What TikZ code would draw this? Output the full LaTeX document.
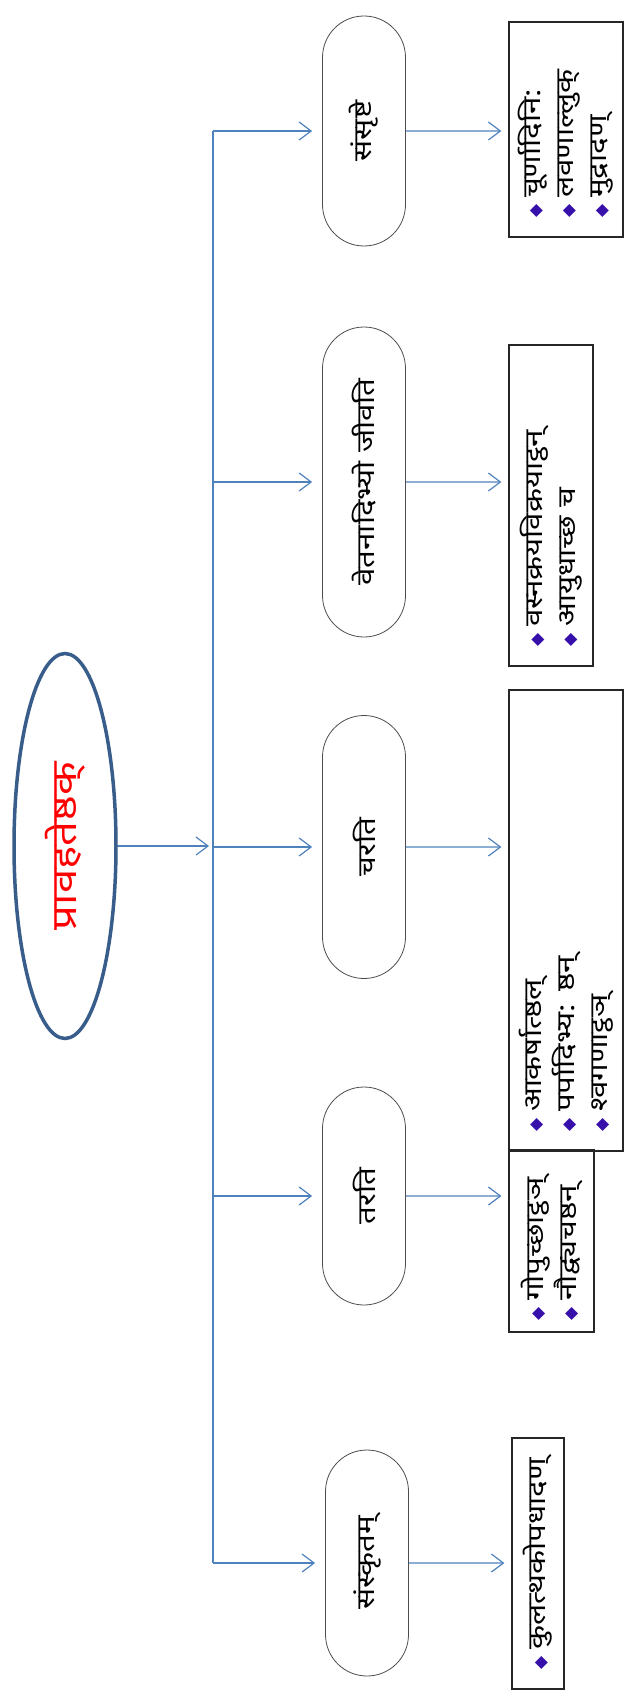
\documentclass[tikz,border=0pt]{standalone}
\usepackage{fontspec}
\setmainfont{Noto Sans}[Script=Devanagari, FakeStretch=1.25]
\newfontfamily\dejavu{DejaVu Sans}
\usepackage{tikz}
\usetikzlibrary{arrows.meta}
\usetikzlibrary{shapes.geometric, shapes.misc}
\usetikzlibrary{positioning}
\definecolor{linkblue}{RGB}{79,129,189}
\definecolor{ringblue}{RGB}{56,93,138}
\definecolor{dotblue}{RGB}{55,15,170}
\newcommand{\dotmark}{{\dejavu\color{dotblue}\fontsize{17}{17}\selectfont ◆}\hspace{6pt}}

\begin{document}
\begin{tikzpicture}[x=1pt, y=-1pt, font=\fontsize{25}{33}\selectfont]
	\useasboundingbox (0,0) rectangle (626,1699);

	\node[ellipse, draw=ringblue, line width=3.5pt, text=red, rotate=90,
	      font=\fontsize{35}{40}\selectfont,
	      minimum width=385pt, minimum height=102pt, inner sep=0pt] (root) at (65,846) {प्रावहतेष्ठक्};

	\begin{scope}[every node/.style={rounded rectangle, draw=black!70, line width=0.8pt,
	              rotate=90, minimum height=83pt, inner sep=0pt}]
		\node[minimum width=230pt] (1) at (364,131) {संसृष्टे};
		\node[minimum width=310pt] (2) at (364,482) {वेतनादिभ्यो जीवति};
		\node[minimum width=263pt] (3) at (364,847) {चरति};
		\node[minimum width=218pt] (4) at (364,1196) {तरति};
		\node[minimum width=226pt] (5) at (367,1563) {संस्कृतम्};
	\end{scope}

	\begin{scope}[every node/.style={rectangle, draw=black!85, line width=1.2pt, rotate=90,
	              align=left, inner xsep=20pt, inner ysep=0pt}]
		\node[minimum height=114pt, text width=175pt] (r1) at (566,129.5)
			{\dotmark चूर्णादिनि:\\ \dotmark लवणाल्लुक्\\ \dotmark मुद्रादण्};
		\node[minimum height=84pt, text width=281pt] (r2) at (551,505.5)
			{\dotmark वस्नक्रयविक्रयाट्ठन्\\ \dotmark आयुधाच्छ च};
		\node[minimum height=114pt, text width=421pt] (r3) at (566,920.5)
			{\dotmark आकर्षात्ष्ठल्\\ \dotmark पर्पादिभ्य: ष्ठन्\\ \dotmark श्वगणाट्ठञ्};
		\node[minimum height=85pt, inner xsep=12pt, text width=158pt] (r4) at (551.5,1241)
			{\dotmark गोपुच्छाट्ठञ्\\ \dotmark नौद्व्यचष्ठन्};
		\node[minimum height=52pt, text width=211pt] (r5) at (538,1563.5)
			{\dotmark कुलत्थकोपधादण्};
	\end{scope}

	\begin{scope}[>={Straight Barb[length=12pt, width=18pt]},
	              every edge/.style={draw=linkblue, line width=1.2pt}]
		\coordinate (bus) at (213,846);
		\foreach \i in {1,...,5}{\coordinate (b\i) at (bus |- \i);}
		\draw[linkblue, line width=1.2pt] (b1) -- (b5);
		\path (root) edge[->, shorten >=4pt] (bus);
		\foreach \i in {1,...,5}{\path (b\i) edge[->, shorten >=10pt] (\i);}
		\foreach \i in {1,...,5}{\path (\i) edge[->, shorten >=7pt] (\i -| r\i.north);}
	\end{scope}
\end{tikzpicture}
\end{document}
